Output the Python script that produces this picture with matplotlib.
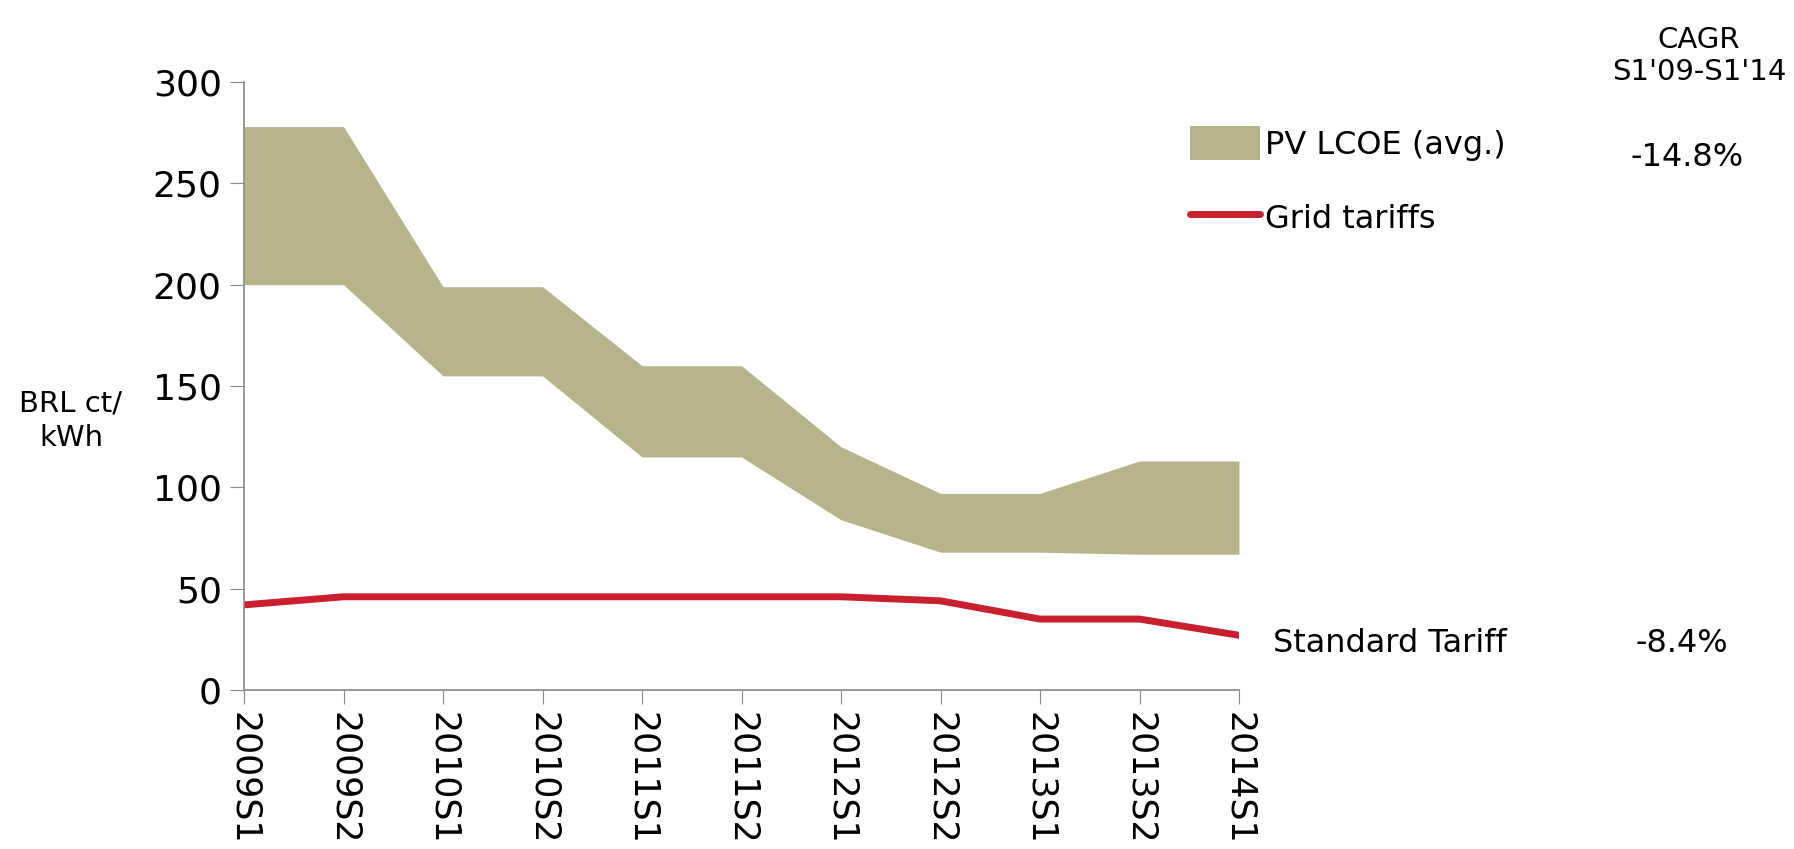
import numpy as np
import matplotlib.pyplot as plt

plt.rcParams['font.family'] = ['DejaVu Sans']

periods = ["2009S1", "2009S2", "2010S1", "2010S2", "2011S1", "2011S2",
           "2012S1", "2012S2", "2013S1", "2013S2", "2014S1"]
pv_high = [278, 278, 199, 199, 160, 160, 120, 97, 97, 113, 113]
pv_low = [200, 200, 155, 155, 115, 115, 84, 68, 68, 67, 67]
grid = [42, 46, 46, 46, 46, 46, 46, 44, 35, 35, 27]

W, H = 1794, 849
fig = plt.figure(figsize=(W / 100, H / 100), dpi=100)
ax = fig.add_axes([244 / W, 1 - 690 / H, (1239 - 244) / W, (690 - 82) / H])

x = np.arange(len(periods))
olive = "#B5B48A"
red = "#C8202E"
pv = ax.fill_between(x, pv_low, pv_high, color=olive, lw=0, label="PV LCOE (avg.)")
gl, = ax.plot(x, grid, color=red, lw=5, solid_capstyle="round", label="Grid tariffs")

ax.set_xlim(0, len(periods) - 1)
ax.set_ylim(0, 300)
ax.set_yticks([0, 50, 100, 150, 200, 250, 300])
ax.set_xticks(x)
ax.set_xticklabels(periods, rotation=270, fontsize=25)
ax.tick_params(axis="y", labelsize=26, length=10, color="#888888", pad=6)
ax.tick_params(axis="x", length=10, color="#888888", pad=6)
for s in ["top", "right"]:
    ax.spines[s].set_visible(False)
for s in ["left", "bottom"]:
    ax.spines[s].set_color("#888888")
    ax.spines[s].set_linewidth(1.2)

# y label
fig.text(71 / W, 1 - 421 / H, "BRL ct/\nkWh", fontsize=21, ha="center", va="center",
         linespacing=1.3)

# legend
fig.legend(handles=[pv, gl], loc="upper left", bbox_to_anchor=(1190 / W, 1 - 126 / H),
           frameon=False, fontsize=23, handlelength=2.2, handleheight=1.25,
           handletextpad=0.15, labelspacing=1.25, borderpad=0, borderaxespad=0)

# CAGR column
fig.text(1699 / W, 1 - 56 / H, "CAGR\nS1'09-S1'14", fontsize=21, ha="center",
         va="center", linespacing=1.2)
fig.text(1687 / W, 1 - 157 / H, "-14.8%", fontsize=23, ha="center", va="center")
fig.text(1273 / W, 1 - 644 / H, "Standard Tariff", fontsize=23, ha="left", va="center")
fig.text(1682 / W, 1 - 644 / H, "-8.4%", fontsize=23, ha="center", va="center")

fig.savefig("out.png", dpi=100)
